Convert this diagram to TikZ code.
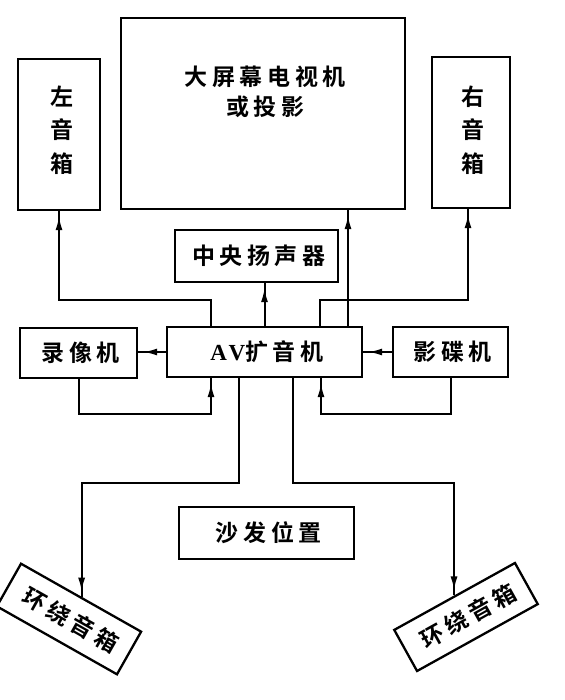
\documentclass[tikz,border=0pt]{standalone}
\usepackage{fontspec}
\newfontfamily\cjk{Noto Sans CJK SC Bold}[LetterSpace=20]
\newfontfamily\lat{Liberation Serif Bold}[LetterSpace=20]
\usetikzlibrary{arrows.meta,decorations.markings}
\newcommand\zh[1]{{\cjk #1\kern-0.2em}}
\begin{document}
\begin{tikzpicture}[x=1pt,y=-1pt,
  box/.style={draw, line width=2.3pt, inner sep=0pt, font=\fontsize{23pt}{34pt}\selectfont},
  txt/.style={inner sep=0pt, align=center},
  wire/.style={line width=2pt},
  arr/.style={wire, postaction={decorate}, decoration={markings, mark=at position -5pt with {\arrow{Latex[length=14pt,width=7pt]}}}}]
\useasboundingbox (0,0) rectangle (564,700);
% boxes
\node[box, minimum width=82pt, minimum height=151pt] (lspk) at (59,134.5) {};
\node[box, minimum width=284pt, minimum height=191pt] (tv) at (263,113.5) {};
\node[box, minimum width=78pt, minimum height=151pt] (rspk) at (471,132.5) {};
\node[box, minimum width=163pt, minimum height=52pt] (cspk) at (256.5,256) {\zh{中央扬声器}};
\node[box, minimum width=195pt, minimum height=50pt] (av) at (264.5,352) {{\lat AV}\zh{扩音机}};
\node[box, minimum width=117pt, minimum height=50pt] (vcr) at (78.5,353) {\zh{录像机}};
\node[box, minimum width=115pt, minimum height=50pt] (dvd) at (450.5,352) {\zh{影碟机}};
\node[box, minimum width=175pt, minimum height=52pt] (sofa) at (266.5,533) {\zh{沙发位置}};
\node[box, minimum width=138pt, minimum height=49pt, rotate=-29.5] (lsur) at (69,619) {\zh{环绕音箱}};
\node[box, minimum width=138pt, minimum height=47pt, rotate=29] (rsur) at (466,617) {\zh{环绕音箱}};
% texts in tall boxes
\node[txt, font=\fontsize{23pt}{30pt}\selectfont] (tvtext) at (263,92) {\zh{大屏幕电视机}\\\zh{或投影}};
\node[txt, font=\fontsize{23pt}{33.5pt}\selectfont] (ltext) at (60,130) {\zh{左}\\\zh{音}\\\zh{箱}};
\node[txt, font=\fontsize{23pt}{33.5pt}\selectfont] (rtext) at (471,130) {\zh{右}\\\zh{音}\\\zh{箱}};
% connectors
\coordinate (avL) at ([xshift=-53.5pt]av.north);
\draw[arr] (avL) -- ++(0,-26) -| (lspk.south);
\draw[arr] (av.north) -- (av.north |- cspk.south);
\coordinate (avT) at ([xshift=83.5pt]av.north);
\draw[arr] (avT) -- (avT |- tv.south);
\coordinate (avR) at ([xshift=55.5pt]av.north);
\coordinate (rin) at ([xshift=-3pt]rspk.south);
\draw[arr] (avR) -- ++(0,-26) -| (rin);
\draw[arr] (av.west) -- (av.west -| vcr.east);
\draw[arr] (dvd.west) -- (dvd.west -| av.east);
\draw[arr] (vcr.south) -- ++(0,35) -| ([xshift=-53.5pt]av.south);
\draw[arr] (dvd.south) -- ++(0,36) -| ([xshift=56.5pt]av.south);
\draw[arr] ([xshift=-25.5pt]av.south) -- ++(0,105) -| (lsur.north);
\draw[arr] ([xshift=28.5pt]av.south) -- ++(0,105) -| (rsur.north);
\end{tikzpicture}
\end{document}
